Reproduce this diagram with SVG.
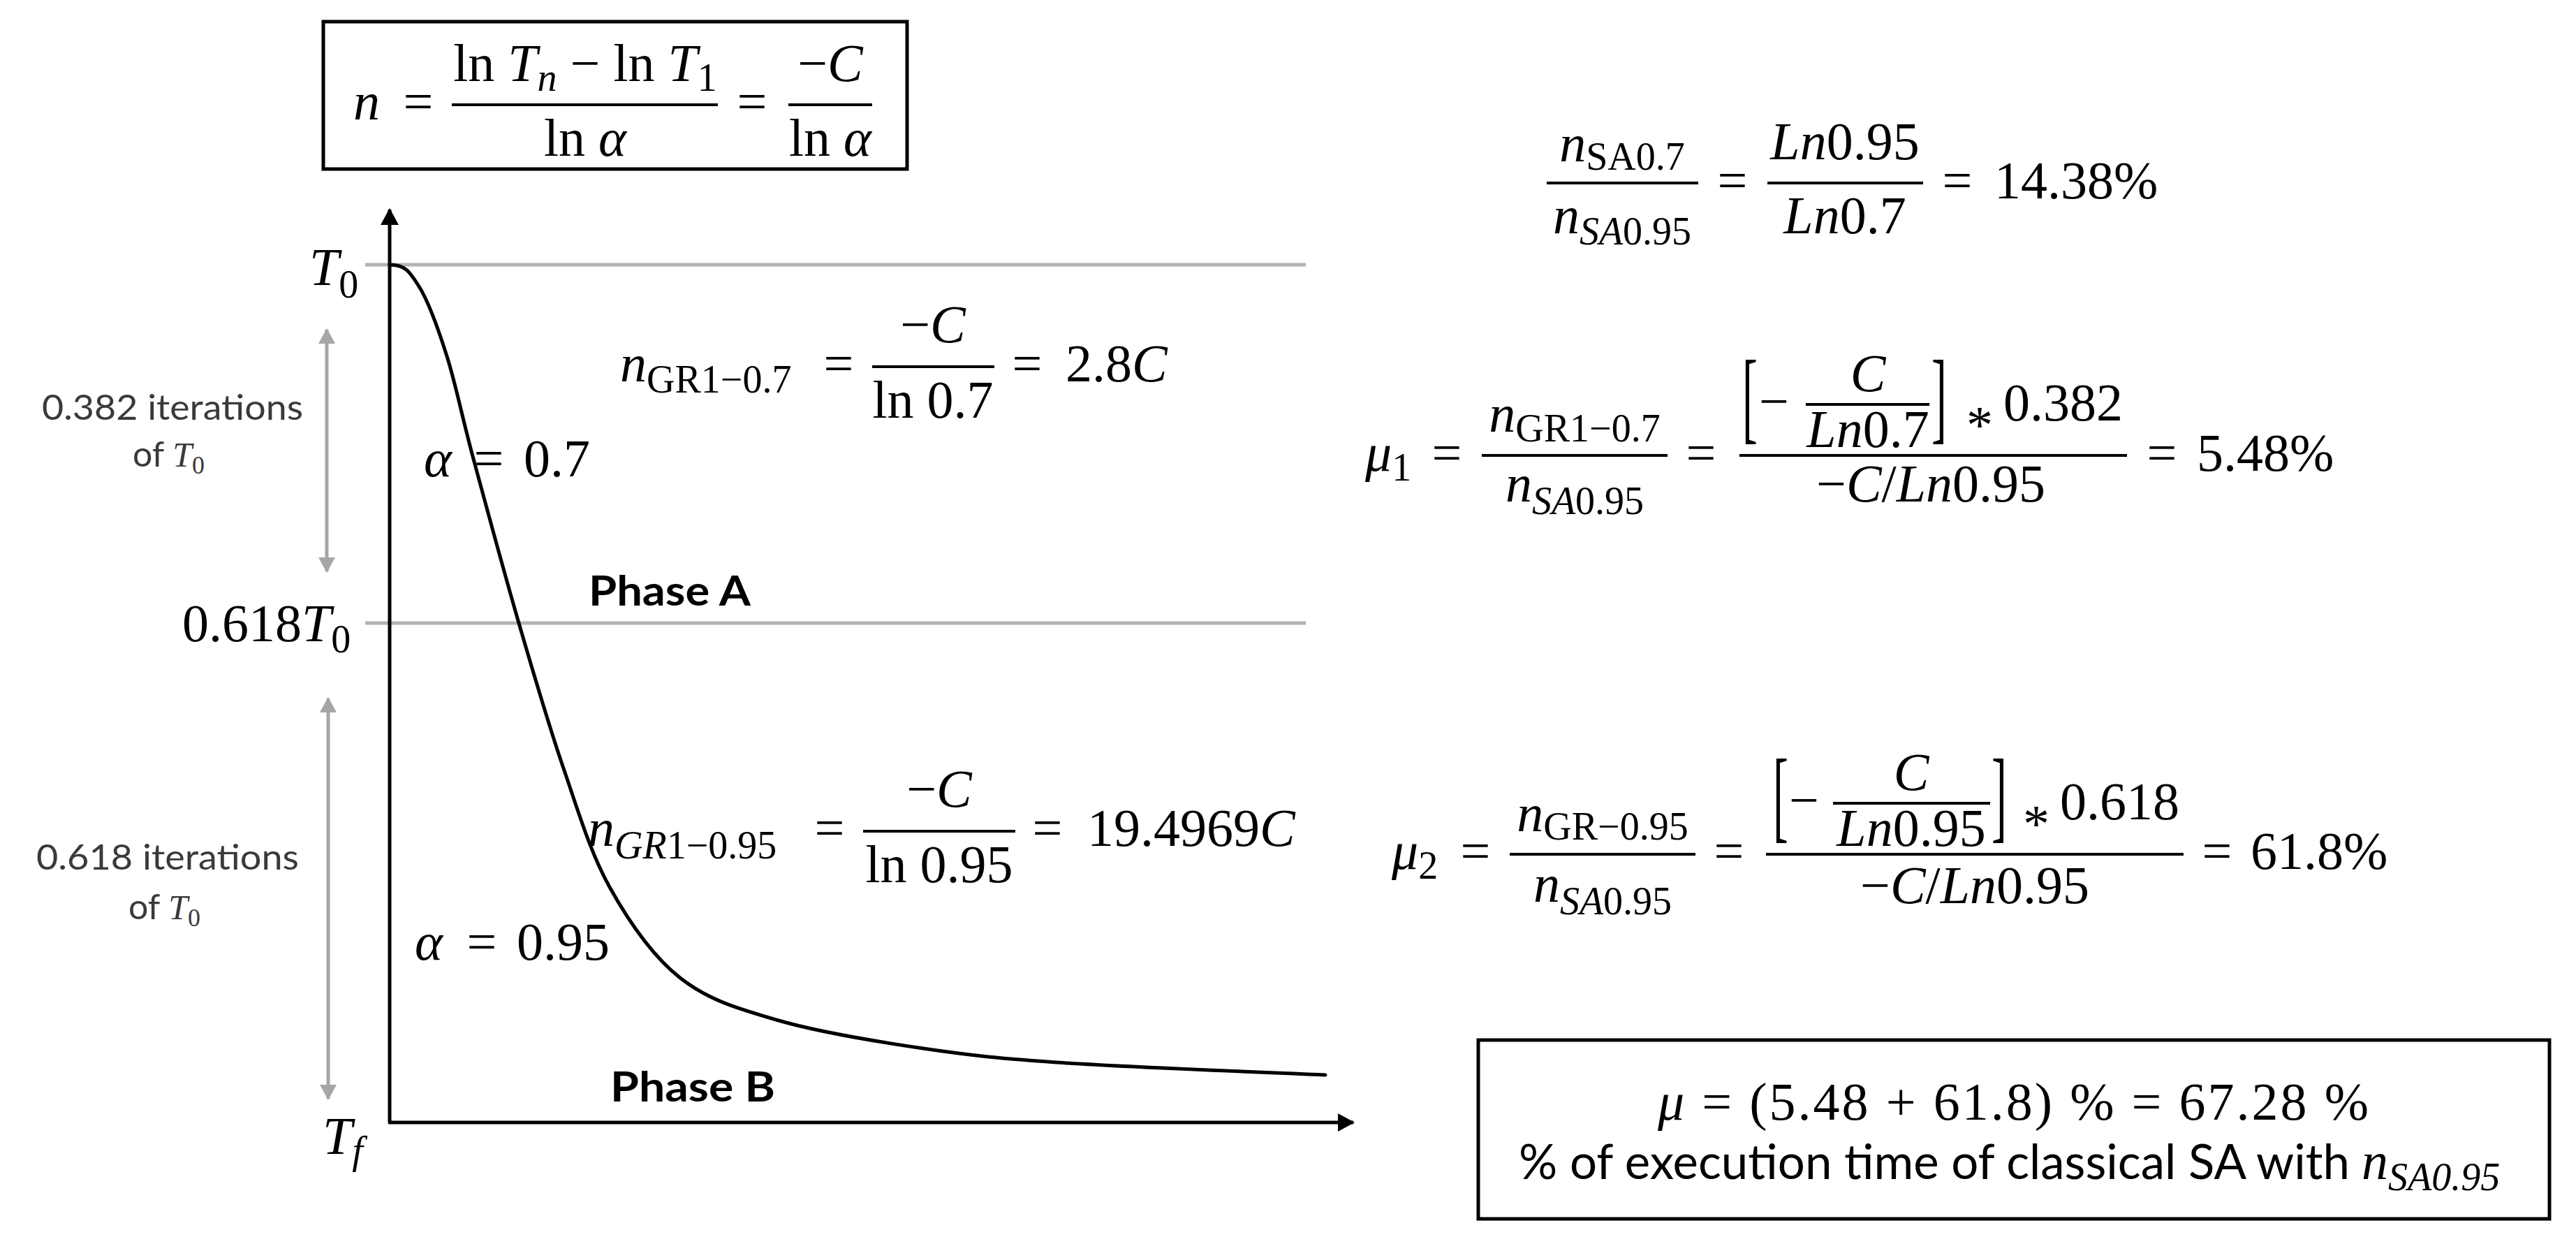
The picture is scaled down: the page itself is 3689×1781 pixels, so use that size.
<svg xmlns="http://www.w3.org/2000/svg" width="3689" height="1781" viewBox="0 0 3689 1781">
<defs>
<style>
.m{font-family:"Liberation Serif","DejaVu Serif",serif;font-size:76px;fill:#000}
.i{font-style:italic}
.s{font-size:56px}
.br{font-family:"Liberation Serif","DejaVu Serif",serif;font-size:146px;fill:#000}
.lbl{font-family:Lato,"Liberation Sans",sans-serif;font-size:50px;fill:#3a3a3a}
.lm{font-family:"Liberation Serif","DejaVu Serif",serif;font-size:50px;font-style:italic;fill:#3a3a3a}
.lm0{font-family:"Liberation Serif","DejaVu Serif",serif;font-size:36px;fill:#3a3a3a}
.ph{font-family:Lato,"Liberation Sans",sans-serif;font-weight:bold;font-size:60px;fill:#000}
.txt{font-family:Lato,"Liberation Sans",sans-serif;font-size:70px;fill:#000}
.bar{stroke:#000;stroke-width:4}
.grid{stroke:#b3b3b3;stroke-width:5}
.box{fill:#fff;stroke:#000;stroke-width:5}
.axis{stroke:#000;stroke-width:5;fill:none}
.garrow{stroke:#a6a6a6;stroke-width:5;fill:none}
</style>
<marker id="ah" markerUnits="userSpaceOnUse" markerWidth="24" markerHeight="26" refX="22" refY="13" orient="auto">
<path d="M0,0 L24,13 L0,26 z" fill="#000"/>
</marker>
<marker id="gah" markerUnits="userSpaceOnUse" markerWidth="22" markerHeight="24" refX="20" refY="12" orient="auto-start-reverse">
<path d="M0,0 L22,12 L0,24 z" fill="#a6a6a6"/>
</marker>
</defs>
<rect width="3689" height="1781" fill="#fff"/>

<g id="gridlines">
<line class="grid" x1="523" y1="379" x2="1870" y2="379"/>
<line class="grid" x1="523" y1="892" x2="1870" y2="892"/>
</g>

<g id="connectors">
<line class="axis" x1="558" y1="1607" x2="558" y2="300" marker-end="url(#ah)"/>
<line class="axis" x1="556" y1="1607" x2="1938" y2="1607" marker-end="url(#ah)"/>
<line class="garrow" x1="468" y1="472" x2="468" y2="818" marker-start="url(#gah)" marker-end="url(#gah)"/>
<line class="garrow" x1="470" y1="1000" x2="470" y2="1573" marker-start="url(#gah)" marker-end="url(#gah)"/>
</g>

<g id="curve">
<path d="M558,379 C580,379 586.3,388.2 600,410 C613.7,431.8 627,468.8 640,510 C653,551.2 660.8,593.3 678,657 C695.2,720.7 721.5,818.2 743,892 C764.5,965.8 785.3,1037 807,1100 C828.7,1163 845.2,1220 873,1270 C900.8,1320 933.7,1368.2 974,1400 C1014.3,1431.8 1057,1444.2 1115,1461 C1173,1477.8 1253,1490.8 1322,1501 C1391,1511.2 1433,1515.7 1529,1522 C1625,1528.3 1836.5,1536.2 1898,1539" fill="none" stroke="#000" stroke-width="5" stroke-linecap="round"/>
</g>

<g id="top-formula">
<rect class="box" x="463" y="31" width="836" height="211"/>
<text class="m i" x="506" y="171">n</text>
<text class="m" x="599" y="171" text-anchor="middle">=</text>
<line class="bar" x1="647" y1="150" x2="1028" y2="150"/>
<text class="m" x="838" y="116" text-anchor="middle">ln <tspan class="i">T</tspan><tspan class="s i" dy="14">n</tspan><tspan dy="-14"> − ln </tspan><tspan class="i">T</tspan><tspan class="s" dy="14">1</tspan></text>
<text class="m" x="838" y="223" text-anchor="middle">ln <tspan class="i">α</tspan></text>
<text class="m" x="1077" y="171" text-anchor="middle">=</text>
<line class="bar" x1="1129" y1="150" x2="1249" y2="150"/>
<text class="m" x="1189" y="116" text-anchor="middle">−<tspan class="i">C</tspan></text>
<text class="m" x="1189" y="223" text-anchor="middle">ln <tspan class="i">α</tspan></text>
</g>

<g id="axis-labels">
<text class="m" x="443" y="408"><tspan class="i">T</tspan><tspan class="s" dy="18">0</tspan></text>
<text class="m" x="261" y="918">0.618<tspan class="i">T</tspan><tspan class="s" dy="16">0</tspan></text>
<text class="m" x="462" y="1652"><tspan class="i">T</tspan><tspan class="s i" dy="14">f</tspan></text>
</g>

<g id="label-phaseA-iter">
<text class="lbl" x="60" y="601" textLength="374" lengthAdjust="spacingAndGlyphs">0.382 iterations</text>
<text class="lbl" x="190" y="668">of <tspan class="lm">T</tspan><tspan class="lm0" dy="10">0</tspan></text>
</g>
<g id="label-phaseB-iter">
<text class="lbl" x="52" y="1245" textLength="376" lengthAdjust="spacingAndGlyphs">0.618 iterations</text>
<text class="lbl" x="184" y="1316">of <tspan class="lm">T</tspan><tspan class="lm0" dy="10">0</tspan></text>
</g>

<g id="alpha-07">
<text class="m i" x="607" y="682">α</text>
<text class="m" x="700" y="682" text-anchor="middle">=</text>
<text class="m" x="750" y="682">0.7</text>
</g>
<g id="alpha-095">
<text class="m i" x="594" y="1374">α</text>
<text class="m" x="690" y="1374" text-anchor="middle">=</text>
<text class="m" x="740" y="1374">0.95</text>
</g>

<g id="phase-a"><text class="ph" x="843" y="867" textLength="232" lengthAdjust="spacingAndGlyphs">Phase A</text></g>
<g id="phase-b"><text class="ph" x="874" y="1577" textLength="236" lengthAdjust="spacingAndGlyphs">Phase B</text></g>

<g id="eq-ngr-07">
<text class="m" x="888" y="546"><tspan class="i">n</tspan><tspan class="s" dy="16">GR1−0.7</tspan></text>
<text class="m" x="1201" y="546" text-anchor="middle">=</text>
<line class="bar" x1="1249" y1="525" x2="1424" y2="525"/>
<text class="m" x="1336" y="490" text-anchor="middle">−<tspan class="i">C</tspan></text>
<text class="m" x="1336" y="598" text-anchor="middle">ln 0.7</text>
<text class="m" x="1471" y="546" text-anchor="middle">=</text>
<text class="m" x="1526" y="546">2.8<tspan class="i">C</tspan></text>
</g>

<g id="eq-ngr-095">
<text class="m" x="842" y="1211"><tspan class="i">n</tspan><tspan class="s" dy="18"><tspan class="i">GR</tspan>1−0.95</tspan></text>
<text class="m" x="1188" y="1211" text-anchor="middle">=</text>
<line class="bar" x1="1236" y1="1190" x2="1454" y2="1190"/>
<text class="m" x="1345" y="1155" text-anchor="middle">−<tspan class="i">C</tspan></text>
<text class="m" x="1345" y="1263" text-anchor="middle">ln 0.95</text>
<text class="m" x="1500" y="1211" text-anchor="middle">=</text>
<text class="m" x="1557" y="1211">19.4969<tspan class="i">C</tspan></text>
</g>

<g id="eq-ratio">
<line class="bar" x1="2215" y1="262" x2="2432" y2="262"/>
<text class="m" x="2323" y="231" text-anchor="middle"><tspan class="i">n</tspan><tspan class="s" dy="12">SA0.7</tspan></text>
<text class="m" x="2323" y="334" text-anchor="middle"><tspan class="i">n</tspan><tspan class="s i" dy="16">SA</tspan><tspan class="s">0.95</tspan></text>
<text class="m" x="2481" y="284" text-anchor="middle">=</text>
<line class="bar" x1="2531" y1="262" x2="2754" y2="262"/>
<text class="m" x="2642" y="228" text-anchor="middle"><tspan class="i">Ln</tspan>0.95</text>
<text class="m" x="2642" y="334" text-anchor="middle"><tspan class="i">Ln</tspan>0.7</text>
<text class="m" x="2803" y="284" text-anchor="middle">=</text>
<text class="m" x="2856" y="284">14.38%</text>
</g>

<g id="eq-mu1">
<text class="m" x="1955" y="674"><tspan class="i">μ</tspan><tspan class="s" dy="14">1</tspan></text>
<text class="m" x="2072" y="674" text-anchor="middle">=</text>
<line class="bar" x1="2122" y1="652" x2="2388" y2="652"/>
<text class="m" x="2255" y="618" text-anchor="middle"><tspan class="i">n</tspan><tspan class="s" dy="14">GR1−0.7</tspan></text>
<text class="m" x="2255" y="718" text-anchor="middle"><tspan class="i">n</tspan><tspan class="s i" dy="18">SA</tspan><tspan class="s">0.95</tspan></text>
<text class="m" x="2436" y="674" text-anchor="middle">=</text>
<line class="bar" x1="2491" y1="652" x2="3046" y2="652"/>
<text class="br" transform="translate(2495,616) scale(0.45,1)">[</text>
<text class="m" x="2519" y="600">−</text>
<line class="bar" x1="2586" y1="579" x2="2763" y2="579"/>
<text class="m i" x="2675" y="560" text-anchor="middle">C</text>
<text class="m" x="2675" y="640" text-anchor="middle"><tspan class="i">Ln</tspan>0.7</text>
<text class="br" transform="translate(2766,616) scale(0.45,1)">]</text>
<text class="m" x="2816" y="634">*</text>
<text class="m" x="2869" y="602">0.382</text>
<text class="m" x="2765" y="718" text-anchor="middle">−<tspan class="i">C</tspan>/<tspan class="i">Ln</tspan>0.95</text>
<text class="m" x="3096" y="674" text-anchor="middle">=</text>
<text class="m" x="3146" y="674">5.48%</text>
</g>

<g id="eq-mu2">
<text class="m" x="1993" y="1244"><tspan class="i">μ</tspan><tspan class="s" dy="14">2</tspan></text>
<text class="m" x="2113" y="1244" text-anchor="middle">=</text>
<line class="bar" x1="2162" y1="1223" x2="2428" y2="1223"/>
<text class="m" x="2295" y="1190" text-anchor="middle"><tspan class="i">n</tspan><tspan class="s" dy="12">GR−0.95</tspan></text>
<text class="m" x="2295" y="1291" text-anchor="middle"><tspan class="i">n</tspan><tspan class="s i" dy="18">SA</tspan><tspan class="s">0.95</tspan></text>
<text class="m" x="2476" y="1244" text-anchor="middle">=</text>
<line class="bar" x1="2529" y1="1223" x2="3127" y2="1223"/>
<text class="br" transform="translate(2539,1187) scale(0.45,1)">[</text>
<text class="m" x="2562" y="1171">−</text>
<line class="bar" x1="2625" y1="1150" x2="2850" y2="1150"/>
<text class="m i" x="2737" y="1131" text-anchor="middle">C</text>
<text class="m" x="2737" y="1211" text-anchor="middle"><tspan class="i">Ln</tspan>0.95</text>
<text class="br" transform="translate(2852,1187) scale(0.45,1)">]</text>
<text class="m" x="2897" y="1205">*</text>
<text class="m" x="2950" y="1173">0.618</text>
<text class="m" x="2828" y="1293" text-anchor="middle">−<tspan class="i">C</tspan>/<tspan class="i">Ln</tspan>0.95</text>
<text class="m" x="3175" y="1244" text-anchor="middle">=</text>
<text class="m" x="3223" y="1244">61.8%</text>
</g>

<g id="result-box">
<rect class="box" x="2117" y="1489" width="1534" height="256"/>
<text class="m" x="2374" y="1603" textLength="1018" lengthAdjust="spacing"><tspan class="i">μ</tspan> = (5.48 + 61.8) % = 67.28 %</text>
<text class="txt" x="2175" y="1688" textLength="1190" lengthAdjust="spacingAndGlyphs">% of execution time of classical SA with</text>
<text class="m" x="3382" y="1688"><tspan class="i">n</tspan><tspan class="s i" dy="16">SA</tspan><tspan class="s i">0.95</tspan></text>
</g>
</svg>
